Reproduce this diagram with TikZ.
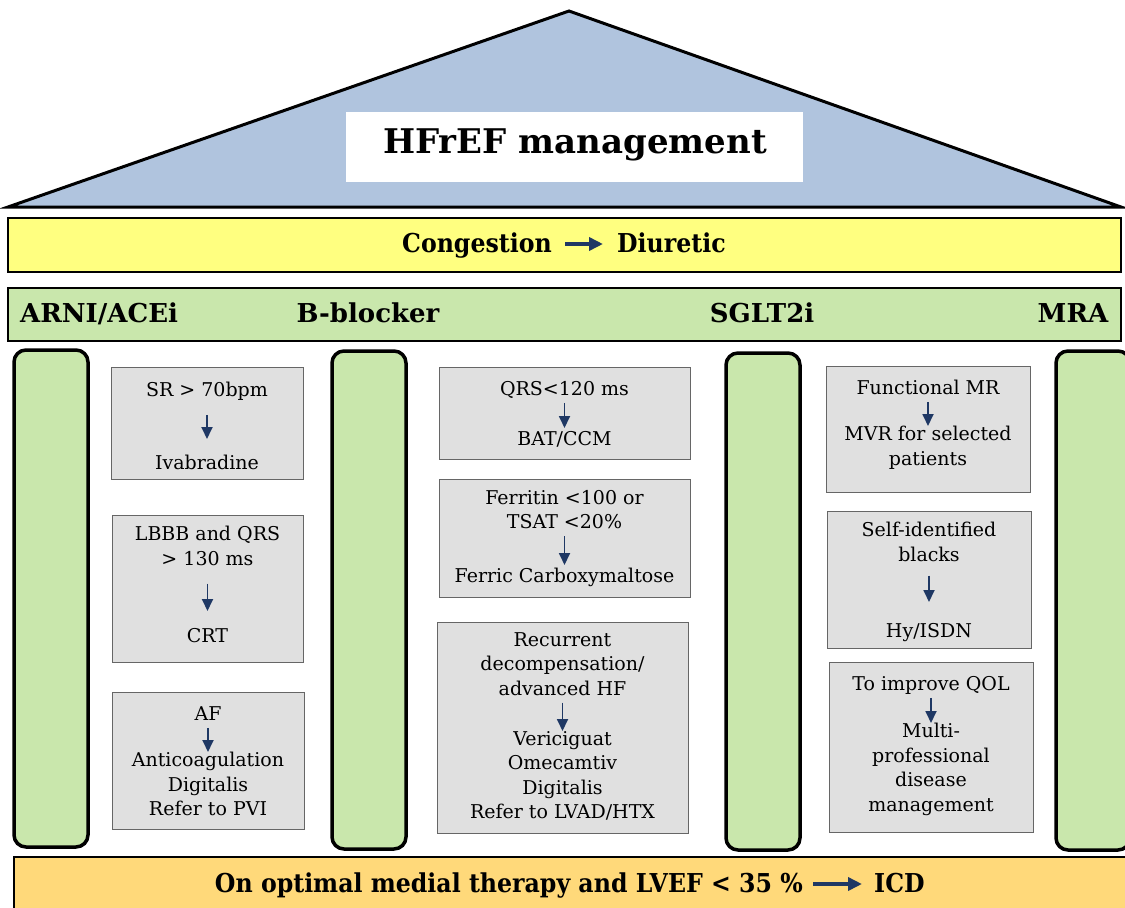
\documentclass[tikz,border=0pt]{standalone}
\usepackage{fontspec}
\setmainfont{DejaVu Serif}
\newfontfamily\narrowserif[FakeStretch=0.91]{DejaVu Serif}
\usepackage{tikz}
\usetikzlibrary{arrows.meta}

\definecolor{roofblue}{HTML}{B0C4DE}
\definecolor{bandyellow}{HTML}{FFFF80}
\definecolor{pillargreen}{HTML}{C9E7AC}
\definecolor{basegold}{HTML}{FFD97A}
\definecolor{boxgray}{HTML}{E0E0E0}
\definecolor{boxline}{HTML}{666666}
\definecolor{navy}{HTML}{1F3864}

\newcommand{\boxstrut}{\rule[-7.35pt]{0pt}{24.5pt}}

\tikzset{
  pillar/.style={draw, line width=3.5pt, fill=pillargreen, rounded corners=12pt},
  band/.style={draw, line width=2.5pt},
  casebox/.style={draw=boxline, fill=boxgray, line width=1pt},
  boxtext/.style={font=\fontsize{19}{24.5}\selectfont, align=center, inner sep=0pt, anchor=north,
    execute at begin node=\boxstrut, execute at end node=\boxstrut},
  bandtext/.style={font=\bfseries\fontsize{26}{30}\selectfont, inner sep=0pt, text height=19pt, text depth=3pt},
  narrowtext/.style={bandtext, font=\narrowserif\bfseries\fontsize{26}{30}\selectfont},
  smallarrow/.style={draw=navy, line width=1.8pt, -{Triangle[width=11pt,length=12pt]}},
  bigarrow/.style={draw=navy, line width=4pt, -{Triangle[width=13pt,length=14pt]}}
}

\begin{document}
\begin{tikzpicture}[x=1pt,y=-1pt]
\useasboundingbox (0,0) rectangle (1125,908);
\clip (0,0) rectangle (1125,908);

% Roof
\draw[fill=roofblue, line width=3pt, line join=miter] (8,207) -- (569,11) -- (1121,207) -- cycle;
\fill[white] (346,112) rectangle (803,182);                  % title plate
\node[font=\bfseries\fontsize{34}{40}\selectfont, anchor=base, inner sep=0pt] (title) at (575,153) {HFrEF management};

% Bands
\draw[band, fill=bandyellow] (8,218) rectangle (1121,272);   % congestion band
\draw[band, fill=pillargreen] (8,288) rectangle (1121,341);  % drug band
\draw[band, fill=basegold] (14,857) rectangle (1130,915);    % base band

% Pillars
\draw[pillar] (14,350) rectangle (88,847);
\draw[pillar] (332,351) rectangle (406,849);
\draw[pillar] (726,353) rectangle (800,850);
\draw[pillar] (1056,351) rectangle (1130,850);

% Band labels
\node[narrowtext, anchor=base east] (cong) at (552,252) {Congestion};
\node[narrowtext, anchor=base west] (diur) at (617,252) {Diuretic};
\draw[bigarrow, shorten <=13pt, shorten >=14pt] (cong) -- (diur);

\node[bandtext, anchor=base west] (arni) at (20,322) {ARNI/ACEi};
\node[bandtext, anchor=base] (bblock) at (368,322) {B-blocker};
\node[bandtext, anchor=base] (sglt) at (762,322) {SGLT2i};
\node[bandtext, anchor=base] (mra) at (1073,322) {MRA};

\node[narrowtext, anchor=base east] (optimal) at (803,892) {On optimal medial therapy and LVEF < 35 \%};
\node[narrowtext, anchor=base west] (icd) at (874,892) {ICD};
\draw[bigarrow, shorten <=10pt, shorten >=12pt] (optimal) -- (icd);

% Left column
\draw[casebox] (111,367) rectangle (303,479);
\node[boxtext] (sr) at (207,379) {SR > 70bpm};
\node[boxtext] (ivab) at (207,452) {Ivabradine};
\draw[smallarrow, shorten <=11pt, shorten >=13pt] (sr) -- (ivab);

\draw[casebox] (112,515) rectangle (303,662);
\node[boxtext] (lbbb) at (207.5,526) {LBBB and QRS\\> 130 ms};
\node[boxtext] (crt) at (207.5,625) {CRT};
\draw[smallarrow, shorten <=11pt, shorten >=14pt] (lbbb) -- (crt);

\draw[casebox] (112,692) rectangle (304,829);
\node[boxtext] (af) at (208,703) {AF};
\node[boxtext] (anticoag) at (208,752) {Anticoagulation\\Digitalis\\Refer to PVI};
\draw[smallarrow] (af) -- (anticoag);

% Middle column
\draw[casebox] (439,367) rectangle (690,459);
\node[boxtext] (qrs) at (564.5,378) {QRS<120 ms};
\node[boxtext] (bat) at (564.5,428) {BAT/CCM};
\draw[smallarrow] (qrs) -- (bat);

\draw[casebox] (439,479) rectangle (690,597);
\node[boxtext] (ferritin) at (564.5,490) {Ferritin <100 or\\TSAT <20\%};
\node[boxtext] (fcm) at (564.5,565) {Ferric Carboxymaltose};
\draw[smallarrow] (ferritin) -- (fcm);

\draw[casebox] (437,622) rectangle (688,833);
\node[boxtext] (recur) at (562.5,632) {Recurrent\\decompensation/\\advanced HF};
\node[boxtext] (vericig) at (562.5,731) {Vericiguat\\Omecamtiv\\Digitalis\\Refer to LVAD/HTX};
\draw[smallarrow] (recur) -- (vericig);

% Right column
\draw[casebox] (826,366) rectangle (1030,492);
\node[boxtext] (fmr) at (928,377) {Functional MR};
\node[boxtext] (mvr) at (928,426) {MVR for selected\\patients};
\draw[smallarrow] (fmr) -- (mvr);

\draw[casebox] (827,511) rectangle (1031,648);
\node[boxtext] (blacks) at (929,522) {Self-identified\\blacks};
\node[boxtext] (hyisdn) at (929,620) {Hy/ISDN};
\draw[smallarrow, shorten <=7pt, shorten >=18pt] (blacks) -- (hyisdn);

\draw[casebox] (829,662) rectangle (1033,832);
\node[boxtext] (qol) at (931,673) {To improve QOL};
\node[boxtext] (multi) at (931,723) {Multi-\\professional\\disease\\management};
\draw[smallarrow] (qol) -- (multi);

\end{tikzpicture}
\end{document}
